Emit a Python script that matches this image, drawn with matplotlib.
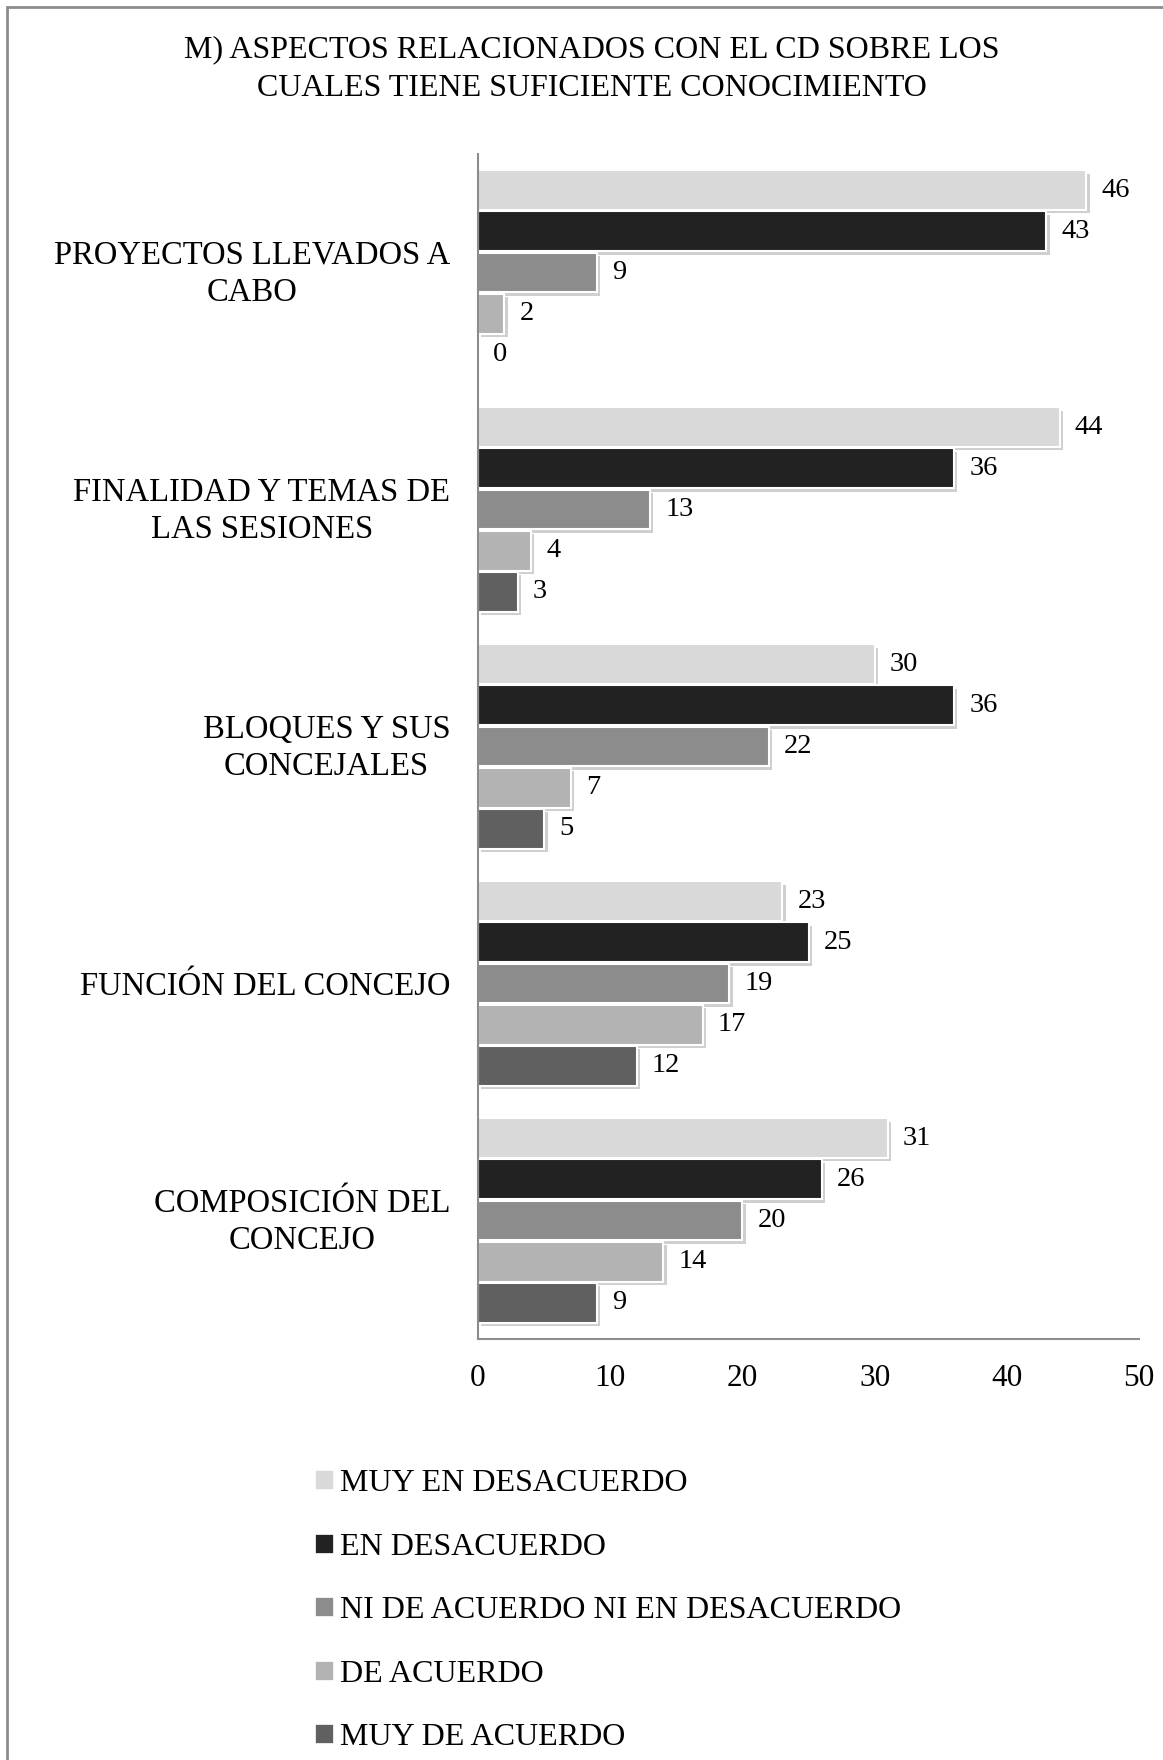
import matplotlib
matplotlib.use("Agg")
import matplotlib.pyplot as plt
import matplotlib.patheffects as pe
from matplotlib.patches import Patch, Rectangle
import numpy as np

plt.rcParams['font.family'] = ['Liberation Serif', 'DejaVu Serif']

categories = ["PROYECTOS LLEVADOS A\nCABO",
              "FINALIDAD Y TEMAS DE\nLAS SESIONES",
              "BLOQUES Y SUS\nCONCEJALES",
              "FUNCIÓN DEL CONCEJO",
              "COMPOSICIÓN DEL\nCONCEJO"]
series_names = ["MUY EN DESACUERDO", "EN DESACUERDO",
                "NI DE ACUERDO NI EN DESACUERDO", "DE ACUERDO", "MUY DE ACUERDO"]
muy_en_desacuerdo = [46, 44, 30, 23, 31]
en_desacuerdo = [43, 36, 36, 25, 26]
ni_ni = [9, 13, 22, 19, 20]
de_acuerdo = [2, 4, 7, 17, 14]
muy_de_acuerdo = [0, 3, 5, 12, 9]
series_values = [muy_en_desacuerdo, en_desacuerdo, ni_ni, de_acuerdo, muy_de_acuerdo]
colors = ["#d9d9d9", "#222222", "#8c8c8c", "#b3b3b3", "#606060"]
xticks = [0, 10, 20, 30, 40, 50]

W, H = 1163, 1760
fig = plt.figure(figsize=(W / 100, H / 100), dpi=100)
ax = fig.add_axes([478 / W, 1 - 1339 / H, (1139 - 478) / W, (1339 - 154) / H])

y = np.arange(len(categories))
step = 0.1738
bh = 0.168
shadow = [pe.SimplePatchShadow(offset=(2.5, -2.5), shadow_rgbFace='#777777', alpha=0.35),
          pe.Normal()]
for i, (name, vals, c) in enumerate(zip(series_names, series_values, colors)):
    pos = y + (i - 2) * step
    bars = ax.barh(pos, vals, height=bh, color=c, edgecolor='white', linewidth=1.5,
                   label=name)
    for b in bars:
        b.set_path_effects(shadow)
    for p, v in zip(pos, vals):
        ax.annotate(str(v), xy=(v, p), xytext=(11, 0), textcoords='offset points',
                    ha='left', va='center', fontsize=20.5, color='black')

ax.set_ylim(len(categories) - 0.5, -0.5)
ax.set_xlim(0, 50)
ax.set_xticks(xticks)
ax.set_xticklabels([str(t) for t in xticks], fontsize=22.5)
ax.set_yticks(y)
ax.set_yticklabels([])
for yi, cat in zip(y, categories):
    dy = 3.6 if "\n" in cat else 0
    ax.annotate(cat, xy=(0, yi), xycoords=('axes fraction', 'data'),
                xytext=(-20, dy), textcoords='offset points',
                ha='right', va='center_baseline', multialignment='center',
                linespacing=1.26, fontsize=23.5, annotation_clip=False)
ax.tick_params(axis='both', length=0)
ax.tick_params(axis='x', pad=18)
for s in ['top', 'right']:
    ax.spines[s].set_visible(False)
for s in ['left', 'bottom']:
    ax.spines[s].set_color('#8c8c8c')
    ax.spines[s].set_linewidth(1.5)

fig.text(592 / W, 1 - 69 / H,
         "M) ASPECTOS RELACIONADOS CON EL CD SOBRE LOS\nCUALES TIENE SUFICIENTE CONOCIMIENTO",
         ha='center', va='center', fontsize=23, linespacing=1.42)

handles = [Patch(facecolor=c, edgecolor='white', linewidth=0.5) for c in colors]
fig.legend(handles, series_names, loc='upper left',
           bbox_to_anchor=(315 / W, 1 - 1469 / H), frameon=False, fontsize=23,
           handlelength=0.55, handleheight=0.55, handletextpad=0.22, labelspacing=1.08,
           borderaxespad=0, borderpad=0)

fig.patches.append(Rectangle((7 / W, -0.1), 1.2, 1.1 - 7 / H, transform=fig.transFigure,
                             fill=False, edgecolor='#8c8c8c', linewidth=2))

fig.savefig("out.png", dpi=100)
